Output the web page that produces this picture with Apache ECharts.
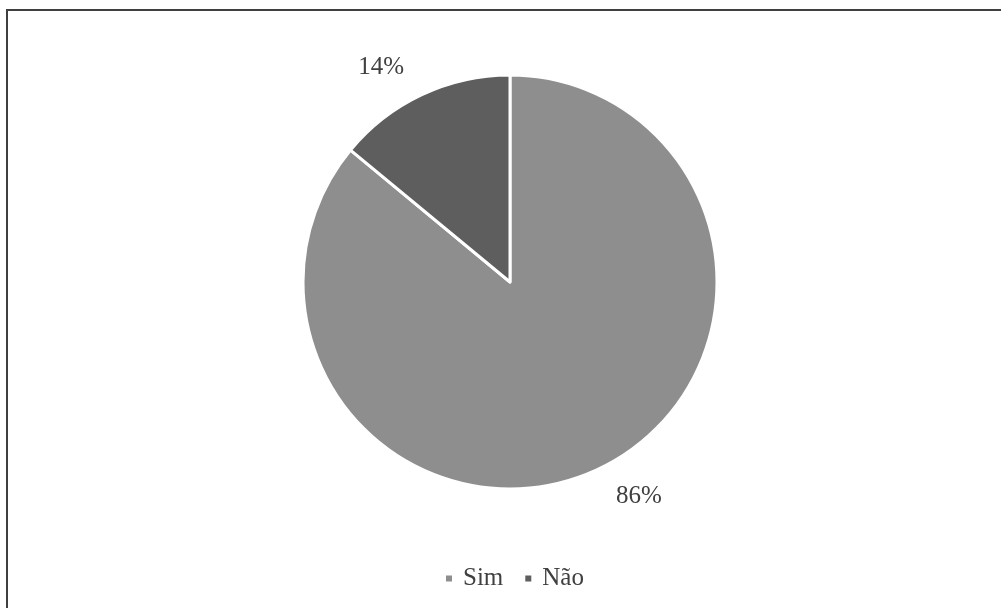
<!DOCTYPE html>
<html>
<head>
<meta charset="utf-8">
<script src="https://cdn.jsdelivr.net/npm/echarts@6/dist/echarts.min.js"></script>
<style>html,body{margin:0;padding:0;background:#fff}#c{width:1001px;height:608px}</style>
</head>
<body>
<div id="c"></div>
<script>
const categories = ['Sim', 'Não'];
const values = [86, 14];
const colors = ['#8e8e8e', '#5e5e5e'];

const chart = echarts.init(document.getElementById('c'), null, {renderer: 'canvas'});
const font = '"Liberation Serif", "Times New Roman", serif';
chart.setOption({
  animation: false,
  backgroundColor: '#fff',
  graphic: [{
    type: 'rect',
    shape: {x: 7, y: 10, width: 1010, height: 620},
    style: {fill: 'none', stroke: '#3f3f3f', lineWidth: 2},
    silent: true
  }],
  legend: {
    data: categories,
    bottom: 12,
    left: 439,
    icon: 'rect',
    itemWidth: 8,
    itemHeight: 8,
    itemGap: 20,
    textStyle: {fontFamily: font, fontSize: 25, color: '#404040', padding: [0, 0, 0, 5]}
  },
  series: [{
    type: 'pie',
    center: [510, 282],
    radius: [0, 207],
    startAngle: 90,
    clockwise: true,
    avoidLabelOverlap: false,
    itemStyle: {borderColor: '#fff', borderWidth: 3},
    label: {
      show: true,
      position: 'outside',
      fontFamily: font,
      fontSize: 25,
      color: '#404040',
      formatter: p => Math.round(p.percent) + '%'
    },
    labelLine: {show: false, length: 30, length2: 0},
    emphasis: {disabled: true},
    data: categories.map((c, i) => ({name: c, value: values[i], itemStyle: {color: colors[i]}}))
  }]
});
</script>
</body>
</html>
